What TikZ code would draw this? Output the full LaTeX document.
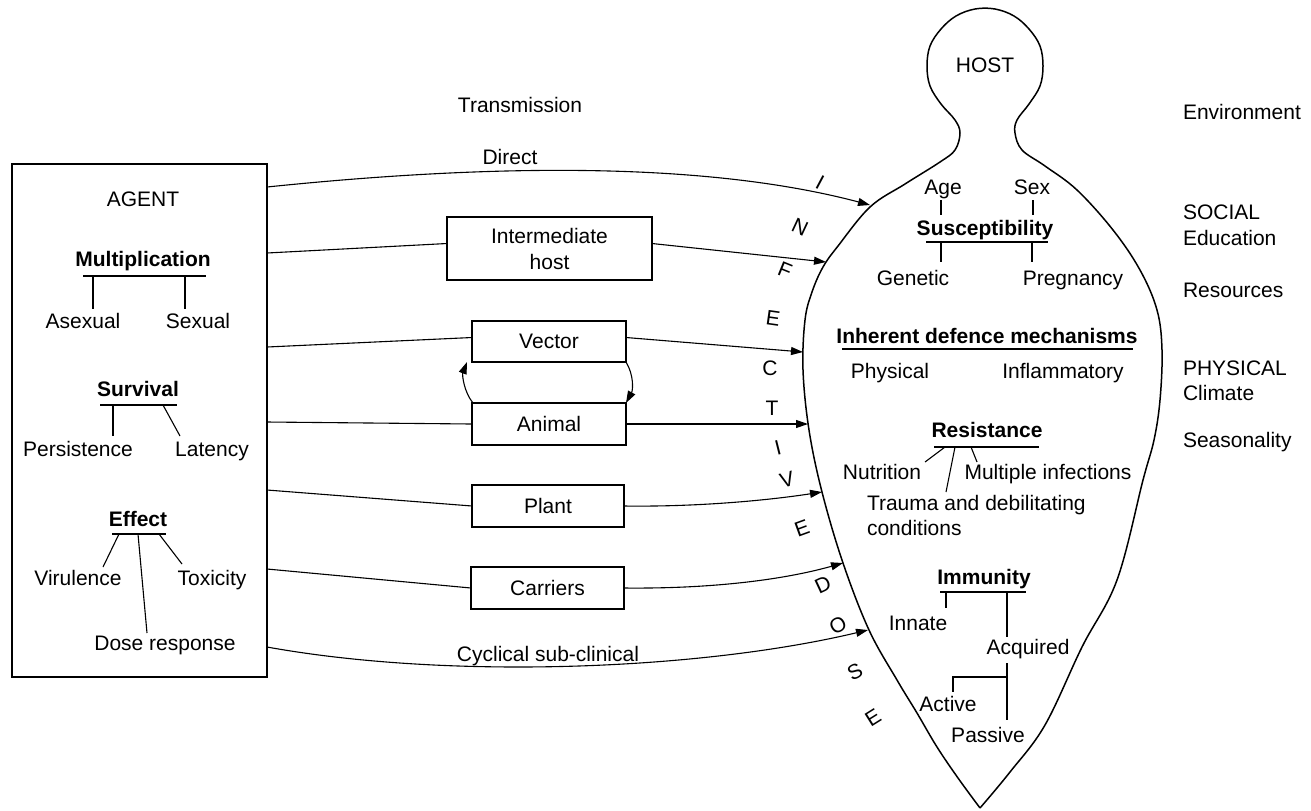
\documentclass[tikz,border=0pt]{standalone}
\usepackage{fontspec}
\setmainfont{Liberation Sans}
\usetikzlibrary{arrows.meta}
\tikzset{
    txt/.style={inner sep=0pt, outer sep=0pt, text height=7.6pt, text depth=0.4pt, font=\fontsize{10.5}{12.5}\selectfont},
    title/.style={txt, font=\fontsize{10.5}{12.5}\selectfont\bfseries},
    side/.style={txt, anchor=west},
    multi/.style={inner sep=0pt, outer sep=0pt, align=left, font=\fontsize{10.5}{12.5}\selectfont},
    stagebox/.style={rectangle, draw=black, line width=0.75pt, align=center, inner sep=0pt, outer sep=0pt, font=\fontsize{10.5}{13}\selectfont},
    letter/.style={inner sep=0pt, font=\fontsize{10.5}{12.5}\selectfont},
    arrow/.style={line width=0.55pt, -{Triangle[length=6pt, width=4pt]}},
    plainline/.style={line width=0.55pt},
    branch/.style={line width=0.55pt}
}

\begin{document}
\begin{tikzpicture}[x=0.5pt, y=-0.5pt]
    \useasboundingbox (0,0) rectangle (1311,810);

    % agent
    \node[stagebox, minimum width=127.5pt, minimum height=256.5pt] (agent) at (139.5,420.5) {};
    \node[txt] (agentlbl) at (143,199) {AGENT};
    \node[title] (mult) at (143,259) {Multiplication};
    \node[txt] (asex) at (83,321) {Asexual};
    \node[txt] (sex) at (198,321) {Sexual};
    \node[title] (surv) at (138,389) {Survival};
    \node[txt] (pers) at (78,449) {Persistence};
    \node[txt] (lat) at (212,449) {Latency};
    \node[title] (eff) at (138,519) {Effect};
    \node[txt] (vir) at (78,578) {Virulence};
    \node[txt] (tox) at (212,578) {Toxicity};
    \node[txt] (dose) at (165,643) {Dose response};

    \draw[branch] (83,276) -- (206,276);
    \draw[branch] (93,276) -- (93,309);
    \draw[branch] (185,276) -- (185,309);
    \draw[branch] (100,405) -- (177,405);
    \draw[branch] (113,405) -- (113,436);
    \draw[branch] (163,405) -- (180,436);
    \draw[branch] (112,534) -- (166,534);
    \draw[branch] (119,534) -- (103,567);
    \draw[branch] (138,534) -- (147,633);
    \draw[branch] (159,534) -- (182,564);

    % transmission routes
    \node[txt] (trans) at (520,105) {Transmission};
    \node[txt] (direct) at (510,157) {Direct};
    \node[stagebox, minimum width=102.5pt, minimum height=31.5pt] (inter) at (549.5,248.5) {Intermediate\\host};
    \node[stagebox, minimum width=77pt, minimum height=20.5pt] (vector) at (549,341.5) {Vector};
    \node[stagebox, minimum width=77pt, minimum height=21pt] (animal) at (549,424) {Animal};
    \node[stagebox, minimum width=76pt, minimum height=21pt] (plant) at (548,506) {Plant};
    \node[stagebox, minimum width=76.5pt, minimum height=21pt] (carriers) at (547.5,588) {Carriers};
    \node[txt] (cyclical) at (548,654) {Cyclical sub-clinical};

    % host
    \draw[line width=0.75pt] plot[smooth, tension=0.6] coordinates {
        (980,808) (958,778) (937,747) (917,713) (897,680) (869,630) (843,563)
        (822,492) (809,430) (803,370) (805,320) (812,292) (823,267) (838,246)
        (870,207) (905,184) (940,162) (955,150) (960,133) (955,120) (941,104)
        (930,86) (927,66) (930,46) (941,29) (956,16) (975,9) (995,9) (1014,16)
        (1029,29) (1040,46) (1043,66) (1040,86) (1029,104) (1017,120) (1015,133)
        (1022,150) (1045,166) (1077,190) (1113,230) (1140,270) (1157,310)
        (1162,350) (1160,400) (1154,440) (1143,480) (1117,580) (1082,647)
        (1045,725) (1010,772) (980,808)};
    \node[txt] (hostlbl) at (985,65) {HOST};
    \node[txt] (age) at (943,187) {Age};
    \node[txt] (sexh) at (1032,187) {Sex};
    \node[title] (susc) at (985,228) {Susceptibility};
    \node[txt] (gen) at (913,278) {Genetic};
    \node[txt] (preg) at (1073,278) {Pregnancy};
    \node[title] (inher) at (987,336) {Inherent defence mechanisms};
    \node[txt] (phys) at (890,371) {Physical};
    \node[txt] (infl) at (1063,371) {Inflammatory};
    \node[title] (resist) at (987,430) {Resistance};
    \node[txt] (nutr) at (882,472) {Nutrition};
    \node[txt] (multi) at (1048,472) {Multiple infections};
    \node[multi, anchor=west] (trauma) at (867,515) {Trauma and debilitating\\conditions};
    \node[title] (immun) at (984,577) {Immunity};
    \node[txt] (innate) at (918,623) {Innate};
    \node[txt] (acq) at (1028,647) {Acquired};
    \node[txt] (active) at (948,704) {Active};
    \node[txt] (passive) at (988,735) {Passive};

    \draw[branch] (941,200) -- (941,215);
    \draw[branch] (1033,200) -- (1033,215);
    \draw[branch] (926,242) -- (1048,242);
    \draw[branch] (941,242) -- (941,262);
    \draw[branch] (1032,242) -- (1032,262);
    \draw[branch] (842,349) -- (1133,349);
    \draw[branch] (934,447) -- (1039,447);
    \draw[branch] (945,447) -- (925,462);
    \draw[branch] (955,447) -- (946,492);
    \draw[branch] (971,447) -- (977,462);
    \draw[branch] (940,592) -- (1026,592);
    \draw[branch] (946,592) -- (946,608);
    \draw[branch] (1007,592) -- (1007,637);
    \draw[branch] (1007,663) -- (1007,720);
    \draw[branch] (1007,677) -- (953,677) -- (953,692);

    % environment
    \node[side] (env) at (1183,112) {Environment};
    \node[side] (social) at (1183,212) {SOCIAL};
    \node[side] (edu) at (1183,238) {Education};
    \node[side] (res) at (1183,290) {Resources};
    \node[side] (physical) at (1183,368) {PHYSICAL};
    \node[side] (climate) at (1183,393) {Climate};
    \node[side] (season) at (1183,440) {Seasonality};

    % infective dose
    \foreach \c/\x/\y/\r [count=\k] in {I/820/182/-28, N/800/227/-25, F/785/270/-22,
        E/773/318/-8, C/770/368/0, T/772/408/0, I/778/448/14, V/787/480/15,
        E/802/528/20, D/823/585/25, O/838/625/28, S/855/672/28, E/873/718/32}
        \node[letter, rotate=\r] (dose\k) at (\x,\y) {\c};

    % connectors
    \foreach \n/\y in {d/187, i/253, v/347, a/422, p/490, c/569, s/647}
        \coordinate (out\n) at (267,\y);
    \foreach \n/\x/\y in {d/870/205, i/826/262, v/803/352, a/808/424, p/822/492, c/843/563, s/868/630}
        \coordinate (in\n) at (\x,\y);

    \draw[arrow] (outd) .. controls (480,165) and (700,160) .. (ind);
    \draw[plainline] (outi) -- ([yshift=2.5pt]inter.west);
    \draw[arrow] ([yshift=2.5pt]inter.east) -- (ini);
    \draw[plainline] (outv) -- ([yshift=2pt]vector.west);
    \draw[arrow] ([yshift=2pt]vector.east) -- (inv);
    \draw[plainline] (outa) -- (animal.west);
    \draw[arrow] (animal.east) -- (ina);
    \draw[plainline] (outp) -- (plant.west);
    \draw[arrow] (plant.east) .. controls (700,507) and (770,500) .. (inp);
    \draw[plainline] (outc) -- (carriers.west);
    \draw[arrow] (carriers.east) .. controls (720,589) and (790,578) .. (inc);
    \draw[arrow] (outs) .. controls (450,680) and (700,670) .. (ins);
    \draw[arrow] ([xshift=0.5pt]animal.north west) .. controls (464,392) and (462,375) .. ([xshift=-2.5pt]vector.south west);
    \draw[arrow] (vector.south east) .. controls (634,375) and (633,390) .. (animal.north east);
\end{tikzpicture}
\end{document}
